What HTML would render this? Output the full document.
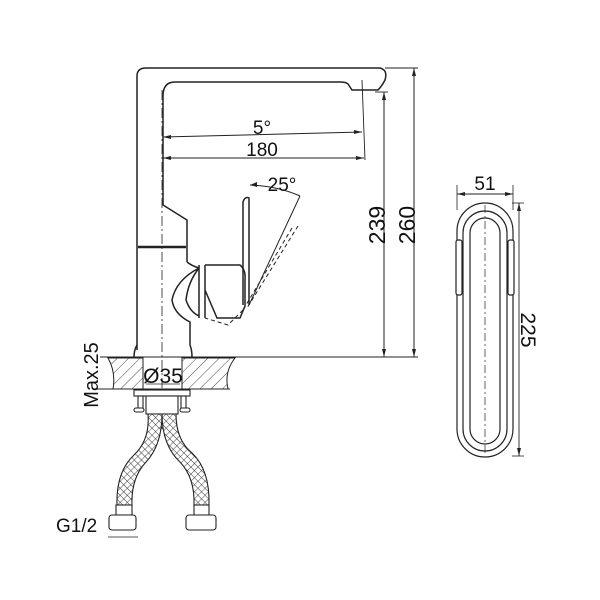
<!DOCTYPE html>
<html><head><style>
html,body{margin:0;padding:0;background:#fff;}
svg{display:block;}
text{font-family:"Liberation Sans",Arial,sans-serif;fill:#111;}
</style></head><body>
<svg width="600" height="600" viewBox="0 0 600 600" xmlns="http://www.w3.org/2000/svg">
<defs>
<pattern id="h" patternUnits="userSpaceOnUse" width="8" height="8" patternTransform="rotate(45)">
<line x1="0" y1="0" x2="0" y2="8" stroke="#333" stroke-width="0.9"/>
</pattern>
<pattern id="m" patternUnits="userSpaceOnUse" width="5" height="5" patternTransform="rotate(45)">
<rect width="5" height="5" fill="#fff"/>
<path d="M0 0H5M0 0V5" stroke="#333" stroke-width="0.9"/>
</pattern>
</defs>
<g fill="none" stroke="#222" stroke-width="1.5">
<path d="M137 350 V76 Q137 68 146 68 H380 Q388 70 385 80 Q382 86 378 90 H352 L348 84 Q346 82 340 82 H175 Q163 82 163 96 V205 L187 220 V262"/>
<line x1="138" y1="247" x2="186" y2="247" stroke-width="2.5"/>
<path d="M137 345 Q134 350 134 357 M190 330 V345 Q192 350 192 357"/>
<path d="M187 262 Q192 266 199 268 M199 268 Q176 280 172 300 Q174 314 190 322 V330 M199 268 Q188 282 186 300 Q190 312 199 316"/>
<path d="M199 265 V318 M205 265 V318 M205 265 H240 Q246 270 245 280 V306 L240 318 H217 L205 290"/>
<path d="M243 305 V202 Q245 196 249 198 V305"/>
<path d="M250 185 Q278 186 300 196" stroke-width="1"/>
<path d="M300 196 L249 305" stroke-width="1"/>
<path d="M298 226 L247 308 M292 228 L243 310 M243 310 L228 325 L205 318" stroke-dasharray="4 3" stroke-width="1"/>
<line x1="162" y1="90" x2="162" y2="430" stroke-dasharray="10 3 2 3" stroke-width="0.8"/>
<line x1="163" y1="137" x2="362" y2="132" stroke-width="1"/>
<line x1="163" y1="158" x2="364" y2="158" stroke-width="1"/>
<line x1="362" y1="80" x2="365" y2="160" stroke-width="0.9"/>
<line x1="100" y1="357" x2="418" y2="357" stroke-width="1"/>
<line x1="385" y1="68" x2="418" y2="68" stroke-width="0.9"/>
<line x1="375" y1="92" x2="388" y2="92" stroke-width="0.9"/>
<line x1="384" y1="92" x2="384" y2="357" stroke-width="1"/>
<line x1="414" y1="68" x2="414" y2="357" stroke-width="1"/>
</g>
<g fill="#222">
<path d="M163 137 l8 -2 v4z M362 132 l-8 -2 v4z M163 158 l8 -2 v4z M364 158 l-8 -2 v4z M384 92 l-2 8 h4z M384 357 l-2 -8 h4z M414 68 l-2 8 h4z M414 357 l-2 -8 h4z M250 185 l7 -3 v5z"/>
</g>
<text x="262" y="134" font-size="19" text-anchor="middle">5°</text>
<text x="262" y="156" font-size="19" text-anchor="middle">180</text>
<text x="282" y="191" font-size="19" text-anchor="middle">25°</text>
<text transform="translate(385,225) rotate(-90)" font-size="23" text-anchor="middle">239</text>
<text transform="translate(415,225) rotate(-90)" font-size="23" text-anchor="middle">260</text>
<path d="M108 358 H143 V389 H113 Q116 372 108 358Z M182 358 H235 Q224 372 228 389 H182Z" fill="url(#h)" stroke="#222" stroke-width="1"/>
<line x1="94" y1="389" x2="230" y2="389" stroke="#222" stroke-width="1"/>
<text transform="translate(98,375) rotate(-90)" font-size="20" text-anchor="middle">Max.25</text>
<text x="163" y="383" font-size="21" text-anchor="middle">Ø35</text>
<path d="M146 384 H180" stroke="#222" stroke-width="0.8"/>
<g fill="#fff" stroke="#222" stroke-width="1.1">
<rect x="134" y="390" width="56" height="6"/>
<rect x="138" y="396" width="5" height="13"/>
<rect x="181" y="396" width="5" height="13"/>
<rect x="134" y="408" width="10" height="4" rx="2"/>
<rect x="180" y="408" width="10" height="4" rx="2"/>
<rect x="146" y="396" width="32" height="18"/>
<path d="M148 414 Q150 440 134 455 Q116 472 117 505 H132 Q131 478 146 462 Q162 445 162 414Z" fill="url(#m)"/>
<path d="M162 414 Q162 445 180 462 Q195 478 194 505 H209 Q210 470 192 453 Q176 440 176 414Z" fill="url(#m)"/>
<rect x="116" y="505" width="16" height="10"/>
<rect x="194" y="505" width="15" height="10"/>
<rect x="109" y="515" width="27" height="15" rx="3"/>
<rect x="186" y="515" width="30" height="15" rx="3"/>
</g>
<text x="56" y="532" font-size="19">G1/2</text>
<line x1="108" y1="537" x2="138" y2="537" stroke="#222" stroke-width="0.8"/>
<g fill="none" stroke="#222" stroke-width="1.2">
<rect x="457" y="203" width="56" height="254" rx="28"/>
<rect x="463" y="211" width="44" height="240" rx="22"/>
<rect x="470" y="218" width="30" height="226" rx="15"/>
<rect x="456" y="240" width="6" height="55" rx="2" fill="#fff"/>
<rect x="508" y="240" width="6" height="55" rx="2" fill="#fff"/>
<line x1="485" y1="205" x2="485" y2="455" stroke-dasharray="8 3 2 3" stroke-width="0.7"/>
<line x1="457" y1="185" x2="457" y2="210" stroke-width="0.8"/>
<line x1="513" y1="185" x2="513" y2="210" stroke-width="0.8"/>
<line x1="457" y1="194" x2="513" y2="194" stroke-width="0.9"/>
<line x1="512" y1="203" x2="524" y2="203" stroke-width="0.8"/>
<line x1="512" y1="456" x2="524" y2="456" stroke-width="0.8"/>
<line x1="519" y1="203" x2="519" y2="456" stroke-width="0.9"/>
</g>
<path d="M457 194 l8 -2 v4z M513 194 l-8 -2 v4z M519 203 l-2 8 h4z M519 456 l-2 -8 h4z" fill="#222"/>
<text x="485" y="190" font-size="19" text-anchor="middle">51</text>
<text transform="translate(521,330) rotate(90)" font-size="21" text-anchor="middle">225</text>
</svg>
</body></html>
